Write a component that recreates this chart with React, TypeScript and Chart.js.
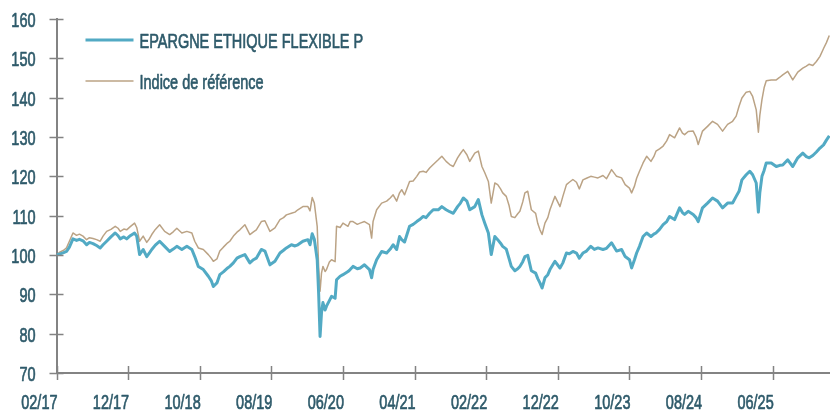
import React, { useEffect, useRef } from 'react';
import { Chart, registerables } from 'chart.js';

Chart.register(...registerables);

// months elapsed since 02/2017
const monthOffsets = [
  0.0, 0.5, 1.0, 1.4, 1.8, 2.3, 2.8, 3.2, 3.7, 4.2, 4.6, 5.1, 5.6, 6.1, 6.5, 7.0, 7.6, 8.2, 8.6, 8.9,
  9.4, 9.8, 10.3, 10.9, 11.2, 11.6, 12.1, 12.6, 13.0, 13.3, 13.8, 14.4, 15.1, 15.8, 16.3, 16.8, 17.5, 18.2, 18.9, 19.3,
  19.8, 20.5, 21.2, 21.6, 21.9, 22.4, 22.8, 23.3, 23.9, 24.2, 24.7, 25.2, 25.6, 26.3, 27.0, 27.5, 27.9, 28.6, 29.1, 29.8,
  30.5, 31.2, 31.7, 32.1, 32.8, 33.3, 33.7, 34.4, 35.1, 35.4, 35.7, 36.0, 36.4, 36.6, 36.8, 37.0, 37.2, 37.5, 37.7, 38.1,
  38.4, 38.9, 39.1, 39.6, 40.0, 40.7, 41.0, 41.4, 42.0, 42.4, 43.0, 43.7, 44.0, 44.2, 44.7, 45.4, 46.1, 46.6, 47.0, 47.5,
  47.9, 48.2, 48.6, 49.3, 49.8, 50.3, 50.7, 51.2, 51.6, 52.1, 52.6, 53.3, 53.8, 54.4, 54.9, 55.4, 56.0, 56.4, 56.8, 57.3,
  57.7, 58.4, 58.9, 59.4, 59.8, 60.3, 60.7, 61.2, 61.6, 62.0, 62.3, 62.8, 63.2, 63.5, 64.0, 64.4, 64.7, 65.1, 65.4, 65.8,
  66.3, 66.9, 67.2, 67.5, 67.8, 68.2, 68.6, 68.9, 69.3, 69.6, 70.3, 70.7, 71.2, 71.6, 72.1, 72.6, 73.0, 73.5, 74.0, 74.6,
  75.1, 75.6, 76.3, 76.8, 77.5, 78.2, 78.9, 79.4, 80.0, 80.3, 80.7, 81.0, 81.4, 81.9, 82.4, 83.0, 83.4, 83.7, 84.2, 84.7,
  85.2, 85.6, 86.3, 87.0, 87.4, 87.7, 88.2, 88.9, 89.3, 89.6, 90.2, 90.9, 91.6, 92.3, 93.0, 93.7, 94.4, 94.9, 95.3, 95.7,
  96.3, 96.8, 97.2, 97.7, 98.0, 98.2, 98.5, 98.8, 99.1, 99.8, 100.5, 101.0, 101.4, 102.1, 102.8, 103.5, 104.2, 104.7, 105.1, 105.6,
  106.1, 106.6, 107.1, 107.5, 107.9,
];

const fundValues = [
  100.0, 100.3, 100.6, 100.9, 102.0, 104.1, 103.7, 104.0, 103.6, 102.6, 103.2, 102.9, 102.4, 101.8, 102.6, 103.5, 104.6, 105.6, 104.9, 104.1,
  104.6, 104.1, 104.9, 105.6, 104.8, 100.1, 101.4, 99.6, 100.6, 101.4, 102.5, 103.5, 102.2, 100.9, 101.5, 102.2, 101.4, 102.2, 101.4, 99.6,
  97.1, 96.3, 94.6, 93.5, 92.0, 92.9, 95.0, 95.7, 96.7, 97.1, 98.0, 99.2, 99.6, 100.1, 98.0, 98.8, 99.2, 101.4, 101.0, 97.5,
  98.4, 100.5, 101.2, 101.8, 102.6, 102.3, 102.6, 103.5, 103.9, 102.6, 105.4, 104.0, 98.8, 90.3, 79.3, 85.3, 87.9, 86.0, 87.0, 88.4,
  89.5, 89.0, 93.7, 94.6, 95.0, 95.8, 96.3, 97.1, 96.5, 96.7, 97.5, 96.3, 94.2, 96.3, 98.8, 100.9, 100.5, 101.5, 102.6, 101.4,
  104.7, 103.9, 103.3, 107.3, 107.8, 108.5, 109.0, 109.8, 109.5, 110.6, 111.5, 111.5, 112.3, 111.5, 111.0, 110.6, 112.3, 113.2, 114.5, 113.7,
  111.5, 112.3, 114.1, 110.2, 108.1, 105.6, 100.1, 104.7, 103.9, 103.0, 102.2, 101.5, 99.0, 97.1, 96.0, 96.5, 97.1, 98.3, 99.6, 99.9,
  96.0, 95.4, 94.0, 92.9, 91.6, 94.2, 95.0, 96.3, 97.5, 98.4, 96.7, 98.0, 100.5, 100.3, 100.9, 100.5, 99.2, 100.5, 101.0, 102.2,
  101.4, 101.8, 101.4, 101.7, 103.1, 101.0, 101.4, 99.6, 98.8, 96.7, 98.8, 100.5, 102.2, 104.7, 105.6, 104.7, 105.3, 105.6, 106.5, 107.7,
  108.5, 109.8, 109.0, 112.0, 110.8, 110.3, 111.1, 110.3, 109.5, 108.5, 112.0, 113.2, 114.5, 113.7, 112.0, 113.2, 113.2, 114.9, 116.2, 119.1,
  120.4, 121.3, 120.4, 118.3, 110.9, 115.8, 120.0, 121.5, 123.4, 123.4, 122.5, 122.8, 122.9, 124.2, 122.5, 124.7, 125.9, 125.0, 124.7, 125.3,
  126.2, 127.2, 128.0, 129.2, 130.3,
];

const benchmarkValues = [
  100.0, 100.8, 101.2, 101.8, 103.5, 105.6, 105.0, 105.3, 104.8, 103.9, 104.4, 104.2, 103.9, 103.5, 104.8, 106.0, 106.5, 107.3, 106.8, 106.0,
  106.6, 106.4, 107.2, 108.1, 107.0, 103.5, 104.8, 103.2, 104.2, 105.2, 106.5, 107.7, 106.0, 105.2, 105.9, 106.8, 105.6, 106.0, 105.6, 103.5,
  101.8, 101.4, 100.1, 99.2, 98.4, 99.0, 101.0, 102.0, 103.1, 103.5, 104.8, 105.8, 106.4, 107.7, 105.2, 105.9, 106.4, 108.5, 108.7, 106.0,
  106.9, 109.0, 109.5, 110.2, 110.6, 110.9, 111.5, 112.3, 112.3, 111.2, 114.6, 113.2, 107.3, 97.1, 90.8, 95.4, 97.1, 95.8, 96.3, 98.2,
  98.8, 98.3, 107.3, 107.0, 108.1, 107.3, 108.5, 108.5, 107.8, 108.1, 108.5, 107.7, 104.3, 108.5, 111.5, 113.2, 113.7, 114.5, 115.3, 113.7,
  115.8, 116.6, 115.3, 118.7, 118.8, 120.0, 121.1, 121.3, 121.0, 122.1, 123.0, 124.2, 125.1, 123.8, 123.0, 122.5, 124.7, 125.8, 126.8, 125.5,
  123.8, 125.9, 126.4, 122.5, 120.9, 118.7, 113.2, 118.3, 117.9, 116.8, 115.8, 114.9, 112.5, 109.8, 109.5, 110.5, 111.1, 113.5, 115.8, 116.2,
  111.5, 110.6, 108.0, 106.4, 105.2, 108.1, 109.5, 111.5, 113.5, 114.9, 112.3, 114.9, 117.9, 118.5, 119.2, 118.5, 116.8, 119.1, 119.5, 120.0,
  119.8, 119.6, 120.2, 119.4, 121.7, 120.0, 119.6, 117.9, 117.0, 115.8, 117.5, 119.5, 121.3, 123.4, 125.1, 123.8, 125.0, 126.4, 127.0, 127.7,
  129.0, 130.6, 129.8, 132.3, 131.0, 130.6, 131.4, 131.5, 130.0, 128.1, 131.5, 132.7, 134.0, 133.2, 131.5, 133.2, 134.0, 135.3, 137.8, 139.9,
  141.4, 141.6, 140.3, 136.9, 131.2, 135.5, 139.5, 142.5, 144.3, 144.5, 144.5, 145.2, 145.8, 146.7, 144.5, 146.5, 147.5, 148.0, 148.5, 148.2,
  149.2, 150.5, 152.5, 154.0, 155.8,
];

const xTickLabels = ['02/17', '12/17', '10/18', '08/19', '06/20', '04/21', '02/22', '12/22', '10/23', '08/24', '06/25'];
const seriesNames = ['EPARGNE ETHIQUE FLEXIBLE P', 'Indice de référence'];
const seriesColors = ['#52aac4', '#bba385'];
const seriesWidths = [3, 1.5];

const FONT = "21px 'Liberation Sans', Arial, sans-serif";
const TEXT_SQUEEZE = 0.69; // condensed look
const TEXT_COLOR = '#2e5a6a';
const AXIS_COLOR = '#838383';

function drawCondensed(ctx: CanvasRenderingContext2D, text: string, x: number, y: number, align: CanvasTextAlign) {
  ctx.save();
  ctx.translate(x, y);
  ctx.scale(TEXT_SQUEEZE, 1);
  ctx.textAlign = align;
  ctx.textBaseline = 'alphabetic';
  ctx.fillStyle = TEXT_COLOR;
  ctx.strokeStyle = TEXT_COLOR;
  ctx.lineWidth = 0.7;
  ctx.lineJoin = 'round';
  ctx.fillText(text, 0, 0);
  ctx.strokeText(text, 0, 0);
  ctx.restore();
}

const crossTicksPlugin = {
  id: 'crossTicks',
  afterDraw(chart: any) {
    const ctx = chart.ctx;
    const xs = chart.scales.x;
    const ys = chart.scales.y;
    const area = chart.chartArea;
    ctx.save();
    ctx.strokeStyle = AXIS_COLOR;
    ctx.lineWidth = 1.5;
    ctx.beginPath();
    xs.ticks.forEach((t: any) => {
      const px = Math.round(xs.getPixelForValue(t.value)) + 0.5;
      ctx.moveTo(px, area.bottom - 7);
      ctx.lineTo(px, area.bottom + 7);
    });
    ys.ticks.forEach((t: any) => {
      const py = Math.round(ys.getPixelForValue(t.value)) + 0.5;
      ctx.moveTo(area.left - 7, py);
      ctx.lineTo(area.left + 7, py);
    });
    ctx.stroke();

    // tick labels (condensed face emulated)
    ctx.font = FONT;
    xs.ticks.forEach((t: any) => {
      const px = xs.getPixelForValue(t.value);
      drawCondensed(ctx, String(t.label), px + 1, area.bottom + 36, 'right');
    });
    ys.ticks.forEach((t: any) => {
      const py = ys.getPixelForValue(t.value);
      drawCondensed(ctx, String(t.label), area.left - 21, py + 8, 'right');
    });
    ctx.restore();
  },
};

const insideLegendPlugin = {
  id: 'insideLegend',
  afterDraw(chart: any) {
    const ctx = chart.ctx;
    const area = chart.chartArea;
    ctx.save();
    ctx.font = FONT;
    chart.data.datasets.forEach((ds: any, i: number) => {
      const y = area.top + 21 + i * 41;
      ctx.strokeStyle = ds.borderColor;
      ctx.lineWidth = ds.borderWidth;
      ctx.beginPath();
      ctx.moveTo(area.left + 29, y);
      ctx.lineTo(area.left + 77, y);
      ctx.stroke();
      drawCondensed(ctx, ds.label, area.left + 83, y + 8, 'left');
    });
    ctx.restore();
  },
};

export default function App() {
  const canvasRef = useRef<HTMLCanvasElement | null>(null);

  useEffect(() => {
    document.body.style.margin = '0';
    const canvas = canvasRef.current;
    if (!canvas) return;
    const datasets = [fundValues, benchmarkValues].map((vals, i) => ({
      label: seriesNames[i],
      data: vals.map((v, j) => ({ x: monthOffsets[j], y: v })),
      borderColor: seriesColors[i],
      backgroundColor: seriesColors[i],
      borderWidth: seriesWidths[i],
      pointRadius: 0,
      tension: 0,
      borderJoinStyle: 'round' as const,
      fill: false,
    }));

    const chart = new Chart(canvas, {
      type: 'line',
      data: { datasets },
      options: {
        responsive: false,
        animation: false,
        layout: { padding: { top: 19, right: 0, left: 0, bottom: 0 } },
        plugins: {
          legend: { display: false },
          tooltip: { enabled: false },
        },
        scales: {
          x: {
            type: 'linear',
            min: 0,
            max: 108,
            afterFit: (s: any) => {
              s.height = 37;
              s.paddingLeft = 0;
              s.paddingRight = 0;
            },
            grid: { display: false, drawTicks: false },
            border: { display: true, color: AXIS_COLOR, width: 2 },
            ticks: {
              display: false,
              stepSize: 10,
              includeBounds: false,
              autoSkip: false,
              maxRotation: 0,
              callback: (v: any) => xTickLabels[Math.round(Number(v) / 10)] ?? '',
            },
          },
          y: {
            min: 70,
            max: 160,
            afterFit: (s: any) => { s.width = 56.5; },
            grid: { display: false, drawTicks: false },
            border: { display: true, color: AXIS_COLOR, width: 2 },
            ticks: {
              display: false,
              stepSize: 10,
            },
          },
        },
      },
      plugins: [crossTicksPlugin, insideLegendPlugin],
    });
    return () => chart.destroy();
  }, []);

  return (
    <div style={{ width: 830, height: 410, background: '#fff' }}>
      <canvas ref={canvasRef} width={830} height={410} style={{ display: 'block' }} />
    </div>
  );
}
